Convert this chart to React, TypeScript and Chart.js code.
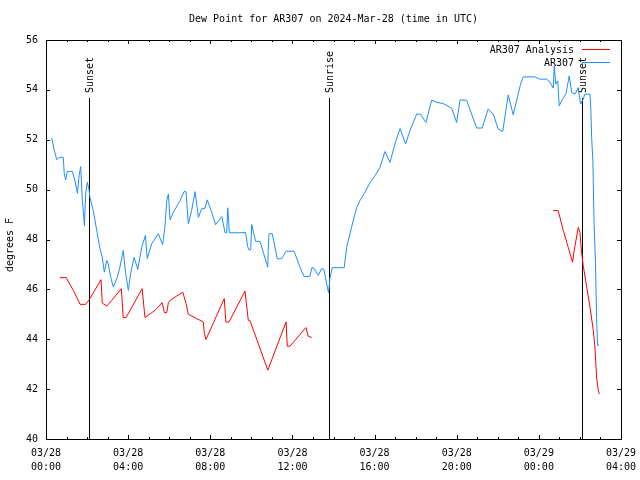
import React, { useEffect, useRef } from 'react';
import { Chart, registerables } from 'chart.js';

Chart.register(...registerables);

const TITLE = 'Dew Point for AR307 on 2024-Mar-28 (time in UTC)';
const Y_LABEL = 'degrees F';
const FONT_FAMILY = '"DejaVu Sans Mono", "Liberation Mono", monospace';

const X_TICK_HOURS = [0, 4, 8, 12, 16, 20, 24, 28];
const X_TICK_DATES = ['03/28', '03/28', '03/28', '03/28', '03/28', '03/28', '03/29', '03/29'];
const X_TICK_TIMES = ['00:00', '04:00', '08:00', '12:00', '16:00', '20:00', '00:00', '04:00'];
const Y_TICKS = [40, 42, 44, 46, 48, 50, 52, 54, 56];

const SERIES_NAMES = ['AR307 Analysis', 'AR307'];
const SERIES_COLORS = ['#ff0000', '#1e8cff'];

const SUN_LABELS = ['Sunset', 'Sunrise', 'Sunset'];
const SUN_HOURS = [2.11, 13.79, 26.11];

// AR307 observations (hours since 03/28 00:00 UTC)
const obsHours = [
  0.28, 0.39, 0.52, 0.65, 0.84, 0.89, 0.96, 1.04, 1.28, 1.41, 1.53, 1.61, 1.69, 1.77, 1.84, 1.87,
  1.93, 2.01, 2.09, 2.14, 2.3, 2.5, 2.63, 2.74, 2.84, 2.96, 3.03, 3.15, 3.28, 3.47, 3.6, 3.76,
  3.88, 4.01, 4.12, 4.29, 4.47, 4.66, 4.84, 4.93, 5.15, 5.47, 5.68, 5.79, 5.88, 5.96, 6.04, 6.2,
  6.53, 6.72, 6.82, 6.93, 7.09, 7.26, 7.42, 7.58, 7.74, 7.85, 8.07, 8.26, 8.56, 8.72, 8.8, 8.85,
  8.93, 9.45, 9.72, 9.82, 9.88, 9.97, 10.02, 10.1, 10.21, 10.42, 10.58, 10.75, 10.8, 10.82, 10.86,
  11.02, 11.26, 11.48, 11.69, 12.08, 12.37, 12.56, 12.85, 12.95, 13.05, 13.26, 13.42, 13.53, 13.72,
  13.76, 13.83, 13.94, 14.52, 14.64, 14.88, 15.13, 15.29, 15.53, 15.78, 16.02, 16.26, 16.51,
  16.75, 16.99, 17.24, 17.51, 17.72, 18.05, 18.24, 18.5, 18.78, 19.04, 19.34, 19.75, 20.0, 20.16,
  20.48, 20.97, 21.24, 21.53, 21.78, 22.02, 22.24, 22.51, 22.75, 23.11, 23.24, 23.81, 24.05, 24.38,
  24.54, 24.7, 24.75, 24.82, 24.92, 24.99, 25.16, 25.32, 25.48, 25.6, 25.76, 25.92, 26.03, 26.16,
  26.24, 26.49, 26.53, 26.57, 26.63, 26.66, 26.69, 26.76, 26.81, 26.86, 26.94,
];
const obsValues = [
  52.07, 51.63, 51.2, 51.29, 51.3, 50.63, 50.39, 50.73, 50.73, 50.36, 49.85, 50.56, 50.92, 49.56,
  48.89, 48.55, 49.83, 50.29, 50.03, 49.69, 49.16, 48.23, 47.63, 47.29, 46.69, 47.16, 47.03, 46.49,
  46.09, 46.49, 46.89, 47.56, 46.63, 45.96, 46.63, 47.29, 46.79, 47.69, 48.16, 47.23, 47.83, 48.23,
  47.79, 48.49, 49.56, 49.83, 48.79, 49.09, 49.56, 49.92, 49.92, 48.63, 49.16, 49.92, 48.89, 49.23,
  49.25, 49.59, 49.09, 48.59, 48.92, 48.27, 48.27, 49.27, 48.27, 48.27, 48.28, 47.72, 47.59, 47.59,
  48.6, 48.29, 47.93, 47.92, 47.49, 47.03, 46.89, 47.56, 48.23, 48.23, 47.23, 47.23, 47.53, 47.53,
  46.89, 46.52, 46.52, 46.87, 46.85, 46.56, 46.83, 46.8, 46.0, 45.87, 46.47, 46.87, 46.87, 47.69,
  48.49, 49.29, 49.56, 49.89, 50.29, 50.56, 50.89, 51.53, 51.09, 51.83, 52.45, 51.83, 52.36, 53.03,
  53.03, 52.69, 53.59, 53.5, 53.45, 53.27, 52.69, 53.59, 53.59, 52.47, 52.47, 53.23, 53.03, 52.43,
  52.33, 53.8, 53.0, 54.23, 54.52, 54.52, 54.43, 54.43, 54.31, 54.07, 54.96, 54.23, 54.36, 53.36,
  53.63, 53.85, 54.56, 53.89, 53.83, 54.09, 53.43, 53.63, 53.83, 53.83, 53.23, 52.09, 51.16, 49.83,
  48.63, 47.03, 44.83, 43.76, 43.76,
];

// AR307 Analysis (null = no data)
const anaHours = [
  0.68, 0.98, 1.33, 1.66, 1.93, 2.11, 2.68, 2.74, 2.96, 3.2, 3.67, 3.76, 3.9, 4.68, 4.82, 5.31,
  5.66, 5.76, 5.88, 5.96, 6.04, 6.66, 6.82, 6.93, 7.34, 7.66, 7.71, 7.79, 8.68, 8.76, 8.91, 9.69,
  9.85, 9.93, 10.8, 11.69, 11.75, 11.88, 12.66, 12.77, 12.94, 18.0, 24.7, 24.94, 25.19, 25.43,
  25.64, 25.72, 25.92, 26.0, 26.08, 26.16, 26.33, 26.49, 26.65, 26.73, 26.81, 26.89, 26.94,
];
const anaValues = [
  46.47, 46.47, 45.96, 45.4, 45.4, 45.59, 46.39, 45.45, 45.33, 45.56, 46.03, 44.87, 44.87, 46.03,
  44.87, 45.16, 45.47, 45.07, 45.07, 45.47, 45.56, 45.89, 45.43, 45.0, 44.83, 44.69, 44.23, 43.99,
  45.63, 44.69, 44.69, 45.93, 44.76, 44.76, 42.76, 44.69, 43.72, 43.72, 44.47, 44.12, 44.07, null,
  49.16, 49.16, 48.36, 47.69, 47.09, 47.56, 48.49, 48.29, 47.49, 46.96, 46.09, 45.29, 44.36, 43.69,
  42.49, 41.96, 41.8,
];

const font = (size: number) => `${size}px ${FONT_FAMILY}`;

const decorPlugin = {
  id: 'decor',
  beforeDatasetsDraw(chart: any) {
    const { ctx, chartArea, scales } = chart;
    ctx.save();
    ctx.strokeStyle = '#000';
    ctx.lineWidth = 1;
    ctx.fillStyle = '#000';
    ctx.font = font(10);
    SUN_HOURS.forEach((h, i) => {
      const x = Math.round(scales.x.getPixelForValue(h)) + 0.5;
      ctx.beginPath();
      ctx.moveTo(x, 98);
      ctx.lineTo(x, chartArea.bottom);
      ctx.stroke();
      ctx.save();
      ctx.translate(x + 1, 93);
      ctx.rotate(-Math.PI / 2);
      ctx.textAlign = 'left';
      ctx.textBaseline = 'middle';
      ctx.fillText(SUN_LABELS[i], 0, 0);
      ctx.restore();
    });
    ctx.restore();
  },
  afterDatasetsDraw(chart: any) {
    const { ctx, chartArea, scales } = chart;
    const { left, right, top, bottom } = chartArea;
    ctx.save();
    ctx.strokeStyle = '#000';
    ctx.lineWidth = 1;
    ctx.strokeRect(left + 0.5, top + 0.5, right - left, bottom - top);
    ctx.beginPath();
    for (let h = 0; h <= 28; h++) {
      const x = Math.round(scales.x.getPixelForValue(h)) + 0.5;
      const len = h % 4 === 0 ? 4 : 2;
      ctx.moveTo(x, bottom);
      ctx.lineTo(x, bottom - len);
      ctx.moveTo(x, top);
      ctx.lineTo(x, top + len);
    }
    Y_TICKS.forEach((v) => {
      const y = Math.round(scales.y.getPixelForValue(v)) + 0.5;
      ctx.moveTo(left, y);
      ctx.lineTo(left + 4, y);
      ctx.moveTo(right, y);
      ctx.lineTo(right - 4, y);
    });
    ctx.stroke();

    ctx.fillStyle = '#000';
    ctx.font = font(10);
    ctx.textAlign = 'center';
    ctx.textBaseline = 'middle';
    ctx.fillText(TITLE, (left + right) / 2, 19);
    ctx.save();
    ctx.translate(10, 245);
    ctx.rotate(-Math.PI / 2);
    ctx.fillText(Y_LABEL, 0, 0);
    ctx.restore();
    SERIES_NAMES.forEach((name, i) => {
      const y = 50 + i * 13;
      ctx.textAlign = 'right';
      ctx.textBaseline = 'middle';
      ctx.fillStyle = '#000';
      ctx.fillText(name, 574, y + 0.5);
      ctx.strokeStyle = SERIES_COLORS[i];
      ctx.beginPath();
      ctx.moveTo(582, y - 0.5);
      ctx.lineTo(610, y - 0.5);
      ctx.stroke();
    });
    ctx.restore();
  },
};

export default function App() {
  const canvasRef = useRef<HTMLCanvasElement | null>(null);

  useEffect(() => {
    if (!canvasRef.current) return;
    const chart = new Chart(canvasRef.current, {
      type: 'line',
      data: {
        datasets: [
          {
            label: SERIES_NAMES[0],
            data: anaHours.map((h, i) => ({ x: h, y: anaValues[i] })) as any,
            borderColor: SERIES_COLORS[0],
            borderWidth: 1,
            pointRadius: 0,
            tension: 0,
            spanGaps: false,
            order: 1,
          },
          {
            label: SERIES_NAMES[1],
            data: obsHours.map((h, i) => ({ x: h, y: obsValues[i] })),
            borderColor: SERIES_COLORS[1],
            borderWidth: 1,
            pointRadius: 0,
            tension: 0,
            order: 0,
          },
        ],
      },
      options: {
        animation: false,
        responsive: false,
        devicePixelRatio: 1,
        layout: { padding: { top: 40, right: 19, left: 0, bottom: 0 } },
        plugins: {
          legend: { display: false },
          title: { display: false },
          tooltip: { enabled: false },
        },
        scales: {
          x: {
            type: 'linear',
            min: 0,
            max: 28,
            grid: { display: false, drawTicks: false },
            border: { display: false },
            afterBuildTicks: (s: any) => {
              s.ticks = X_TICK_HOURS.map((v) => ({ value: v }));
            },
            afterFit: (s: any) => {
              s.height = 41;
              s.paddingLeft = 0;
              s.paddingRight = 0;
            },
            ticks: {
              autoSkip: false,
              maxRotation: 0,
              minRotation: 0,
              padding: 7,
              color: '#000',
              font: { family: FONT_FAMILY, size: 10, lineHeight: 1.4 },
              callback: (v: any) => {
                const i = X_TICK_HOURS.indexOf(Number(v));
                return i >= 0 ? [X_TICK_DATES[i], X_TICK_TIMES[i]] : '';
              },
            },
          },
          y: {
            type: 'linear',
            min: 40,
            max: 56,
            grid: { display: false, drawTicks: false },
            border: { display: false },
            afterBuildTicks: (s: any) => {
              s.ticks = Y_TICKS.map((v) => ({ value: v }));
            },
            afterFit: (s: any) => {
              s.width = 46;
              s.paddingTop = 0;
              s.paddingBottom = 0;
            },
            ticks: {
              padding: 8,
              color: '#000',
              font: { family: FONT_FAMILY, size: 10 },
              callback: (v: any) => String(v),
            },
          },
        },
      },
      plugins: [decorPlugin],
    });
    return () => chart.destroy();
  }, []);

  return (
    <div style={{ position: 'absolute', left: 0, top: 0, width: 640, height: 480, background: '#fff' }}>
      <canvas ref={canvasRef} width={640} height={480} />
    </div>
  );
}
